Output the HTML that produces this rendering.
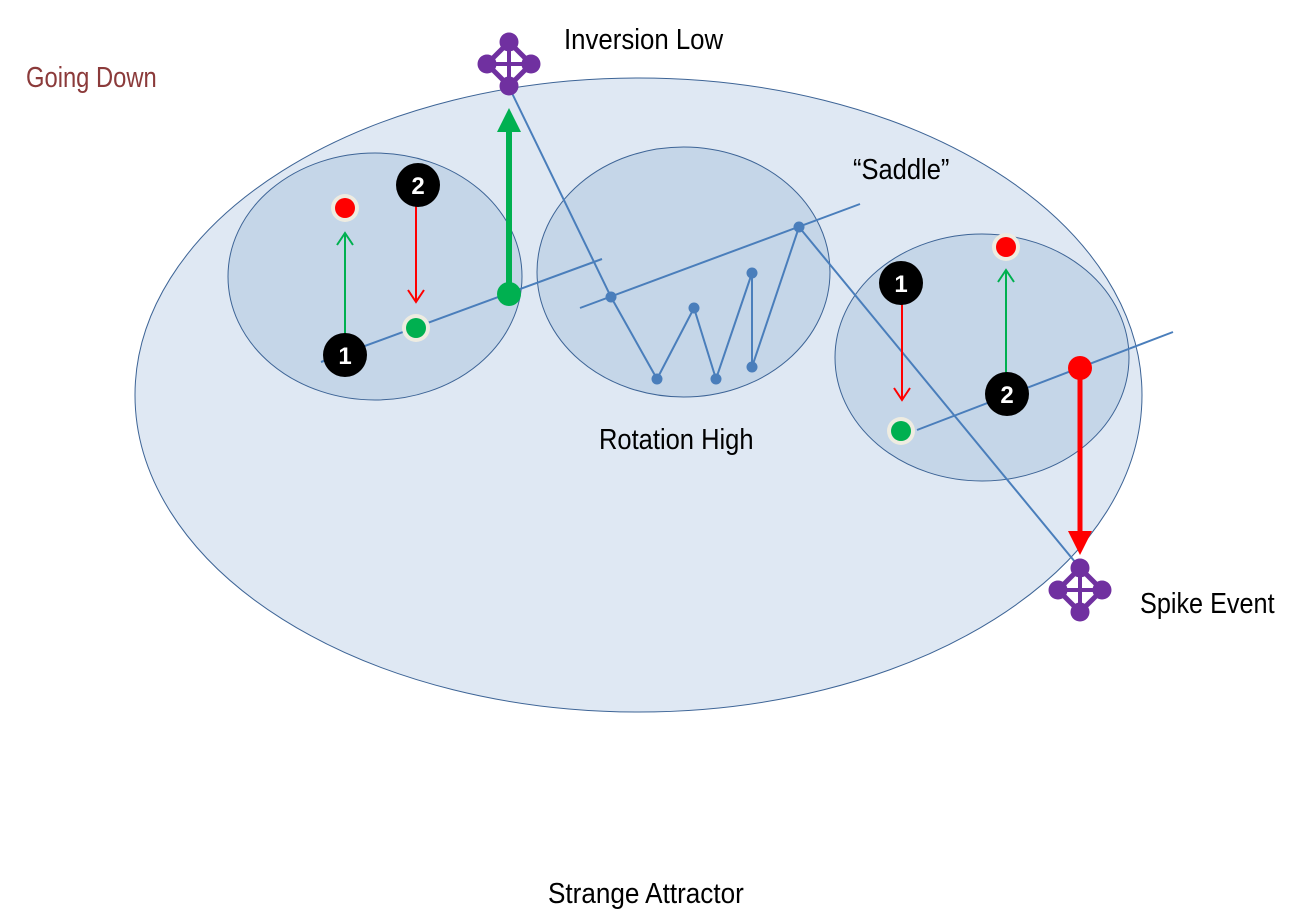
<!DOCTYPE html>
<html><head><meta charset="utf-8"><style>
html,body{margin:0;padding:0;background:#fff;}
svg{display:block;}
text{font-family:"Liberation Sans Narrow","Liberation Sans",sans-serif;}
</style></head><body>
<svg width="1290" height="922" viewBox="0 0 1290 922" xmlns="http://www.w3.org/2000/svg">
<defs>
<g id="icon">
  <path d="M0,-22 L22,0 L0,22 L-22,0 Z" fill="none" stroke="#7030a0" stroke-width="5"/>
  <line x1="0" y1="-22" x2="0" y2="22" stroke="#7030a0" stroke-width="4"/>
  <line x1="-22" y1="0" x2="22" y2="0" stroke="#7030a0" stroke-width="4"/>
  <circle cx="0" cy="-22" r="9.5" fill="#7030a0"/>
  <circle cx="0" cy="22" r="9.5" fill="#7030a0"/>
  <circle cx="-22" cy="0" r="9.5" fill="#7030a0"/>
  <circle cx="22" cy="0" r="9.5" fill="#7030a0"/>
</g>
</defs>
<ellipse cx="638.5" cy="395" rx="503.5" ry="317" fill="#dfe8f3" stroke="#3d6496" stroke-width="1"/>
<ellipse cx="375" cy="276.5" rx="147" ry="123.5" fill="#c5d6e8" stroke="#3d6496" stroke-width="1"/>
<ellipse cx="683.5" cy="272" rx="146.5" ry="125" fill="#c5d6e8" stroke="#3d6496" stroke-width="1"/>
<ellipse cx="982" cy="357.5" rx="147" ry="123.5" fill="#c5d6e8" stroke="#3d6496" stroke-width="1"/>

<g stroke="#4a7ebb" stroke-width="2" fill="none">
  <line x1="321" y1="362" x2="602" y2="259"/>
  <line x1="580" y1="308" x2="860" y2="204"/>
  <line x1="917" y1="430" x2="1173" y2="332"/>
  <polyline points="509,87 611,297 657,379 694,308 716,379 752,273 752,367 799,227 1080,568"/>
</g>
<g fill="#4a7ebb">
  <circle cx="611" cy="297" r="5.5"/><circle cx="657" cy="379" r="5.5"/>
  <circle cx="694" cy="308" r="5.5"/><circle cx="716" cy="379" r="5.5"/>
  <circle cx="752" cy="273" r="5.5"/><circle cx="752" cy="367" r="5.5"/>
  <circle cx="799" cy="227" r="5.5"/>
</g>

<line x1="345" y1="335" x2="345" y2="235" stroke="#00b050" stroke-width="2"/>
<polyline points="337,245 345,233 353,245" fill="none" stroke="#00b050" stroke-width="2"/>
<line x1="416" y1="205" x2="416" y2="300" stroke="#ff0000" stroke-width="2"/>
<polyline points="408,290 416,302 424,290" fill="none" stroke="#ff0000" stroke-width="2"/>
<circle cx="345" cy="208" r="14" fill="#eeece1"/><circle cx="345" cy="208" r="10" fill="#ff0000"/>
<circle cx="416" cy="328" r="14" fill="#eeece1"/><circle cx="416" cy="328" r="10" fill="#00b050"/>
<circle cx="345" cy="355" r="22" fill="#000"/>
<circle cx="418" cy="185" r="22" fill="#000"/>
<text x="345" y="364" fill="#fff" font-size="24" font-weight="bold" text-anchor="middle">1</text>
<text x="418" y="194" fill="#fff" font-size="24" font-weight="bold" text-anchor="middle">2</text>
<line x1="509" y1="290" x2="509" y2="128" stroke="#00b050" stroke-width="6"/>
<polygon points="497,132 509,108 521,132" fill="#00b050"/>
<circle cx="509" cy="294" r="12" fill="#00b050"/>

<line x1="902" y1="303" x2="902" y2="398" stroke="#ff0000" stroke-width="2"/>
<polyline points="894,388 902,400 910,388" fill="none" stroke="#ff0000" stroke-width="2"/>
<line x1="1006" y1="375" x2="1006" y2="272" stroke="#00b050" stroke-width="2"/>
<polyline points="998,282 1006,270 1014,282" fill="none" stroke="#00b050" stroke-width="2"/>
<circle cx="1006" cy="247" r="14" fill="#eeece1"/><circle cx="1006" cy="247" r="10" fill="#ff0000"/>
<circle cx="901" cy="431" r="14" fill="#eeece1"/><circle cx="901" cy="431" r="10" fill="#00b050"/>
<circle cx="901" cy="283" r="22" fill="#000"/>
<circle cx="1007" cy="394" r="22" fill="#000"/>
<text x="901" y="292" fill="#fff" font-size="24" font-weight="bold" text-anchor="middle">1</text>
<text x="1007" y="403" fill="#fff" font-size="24" font-weight="bold" text-anchor="middle">2</text>
<line x1="1080" y1="375" x2="1080" y2="535" stroke="#ff0000" stroke-width="5"/>
<polygon points="1068,531 1092,531 1080,555" fill="#ff0000"/>
<circle cx="1080" cy="368" r="12" fill="#ff0000"/>

<use href="#icon" x="509" y="64"/>
<use href="#icon" x="1080" y="590"/>

<text x="564" y="49" font-size="29" fill="#000" transform="translate(564 0) scale(0.89 1) translate(-564 0)">Inversion Low</text>
<text x="26" y="87" font-size="29" fill="#8b3a3a" transform="translate(26 0) scale(0.82 1) translate(-26 0)">Going Down</text>
<text x="853" y="179" font-size="29" fill="#000" transform="translate(853 0) scale(0.88 1) translate(-853 0)">“Saddle”</text>
<text x="599" y="449" font-size="29" fill="#000" transform="translate(599 0) scale(0.88 1) translate(-599 0)">Rotation High</text>
<text x="1140" y="613" font-size="29" fill="#000" transform="translate(1140 0) scale(0.87 1) translate(-1140 0)">Spike Event</text>
<text x="548" y="903" font-size="29" fill="#000" transform="translate(548 0) scale(0.9 1) translate(-548 0)">Strange Attractor</text>
</svg>
</body></html>
